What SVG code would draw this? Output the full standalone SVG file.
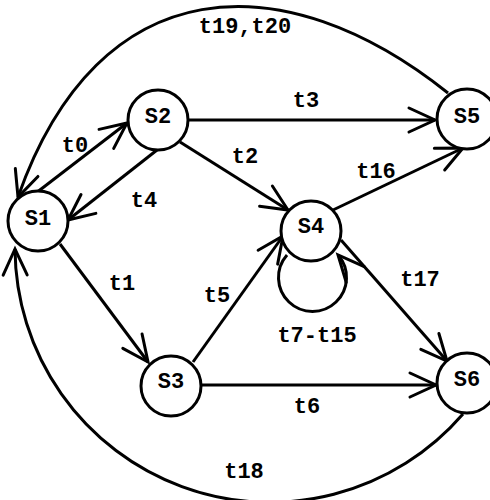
<svg xmlns="http://www.w3.org/2000/svg" width="490" height="500" viewBox="0 0 490 500">
<style>
.node circle{fill:#fff;stroke:#000;stroke-width:3}
.node text,.lbl{font-family:"Liberation Mono","DejaVu Sans Mono",monospace;font-size:22px;font-weight:bold;fill:#000;text-anchor:middle}
.edge{fill:none;stroke:#000;stroke-width:3;marker-end:url(#arr)}
</style>
<defs>
<marker id="arr" markerUnits="userSpaceOnUse" markerWidth="40" markerHeight="40" viewBox="-30 -20 40 40" refX="0" refY="0" orient="auto" overflow="visible">
<path d="M -26,-12 L 0,0 L -26,12" fill="none" stroke="#000" stroke-width="3" stroke-linecap="round" stroke-linejoin="miter"/>
</marker>
</defs>
<rect width="490" height="500" fill="#fff"/>
<g id="connectors">
<path class="edge" d="M 448,93 C 284,-38 99,-33 18,197"/>
<path class="edge" d="M 463,414 A 255 255 0 0 1 15,249"/>
<path class="edge" d="M 36,193 L 127,123"/>
<path class="edge" d="M 157,150 L 68,220"/>
<path class="edge" d="M 188,120 L 435,120"/>
<path class="edge" d="M 180,142 L 288,210"/>
<path class="edge" d="M 333,210 L 463,148"/>
<path class="edge" d="M 60,244 L 148,362"/>
<path class="edge" d="M 193,362 L 283,236"/>
<path class="edge" d="M 201,385 L 436,385"/>
<path class="edge" d="M 341,240 L 447,361"/>
<path class="edge" d="M 287,255 A 34 34 0 1 0 338,255"/>
</g>
<g id="S1" class="node"><circle cx="38" cy="221" r="30"/><text x="38" y="225">S1</text></g>
<g id="S2" class="node"><circle cx="158" cy="120" r="30"/><text x="158" y="123">S2</text></g>
<g id="S3" class="node"><circle cx="171" cy="386" r="30"/><text x="171" y="388">S3</text></g>
<g id="S4" class="node"><circle cx="311" cy="231" r="30"/><text x="311" y="233">S4</text></g>
<g id="S5" class="node"><circle cx="467" cy="119" r="30"/><text x="467" y="123">S5</text></g>
<g id="S6" class="node"><circle cx="467" cy="383" r="30"/><text x="467" y="386">S6</text></g>
<g id="labels">
<text class="lbl" x="245" y="33">t19,t20</text>
<text class="lbl" x="306" y="107">t3</text>
<text class="lbl" x="75" y="152">t0</text>
<text class="lbl" x="245" y="163">t2</text>
<text class="lbl" x="376" y="178">t16</text>
<text class="lbl" x="144" y="207">t4</text>
<text class="lbl" x="122" y="290">t1</text>
<text class="lbl" x="217" y="302">t5</text>
<text class="lbl" x="420" y="286">t17</text>
<text class="lbl" x="317" y="342">t7-t15</text>
<text class="lbl" x="307" y="413">t6</text>
<text class="lbl" x="244" y="478">t18</text>
</g>
</svg>
